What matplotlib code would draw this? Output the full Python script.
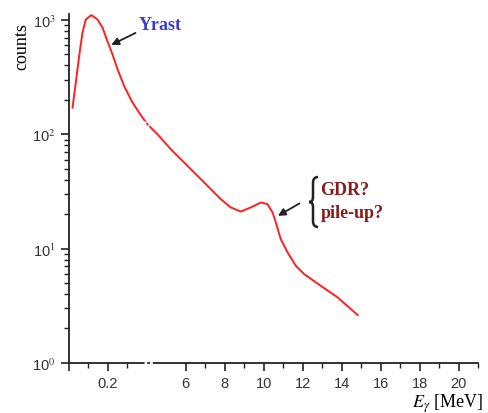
import numpy as np
import matplotlib.pyplot as plt
from matplotlib.path import Path
from matplotlib.patches import PathPatch
from matplotlib.ticker import FixedLocator, LogLocator, NullFormatter

# =========================
# data
# =========================
energy_mev = [0.19, 0.36, 0.53, 0.70, 0.87, 1.16, 1.47, 1.73, 1.98, 2.24,
              2.50, 2.84, 3.27, 3.78, 4.04, 4.55, 5.23, 6.94, 7.79, 8.31,
              8.82, 9.33, 9.85, 10.19, 10.45, 10.62, 10.87, 11.22, 11.64,
              12.07, 12.92, 13.78, 14.81]
counts = [171, 285, 483, 773, 1010, 1102, 1010, 855, 653, 500,
          370, 264, 189, 140, 122, 100, 74, 37.9, 27.1, 22.9,
          21.1, 22.9, 25.3, 24.5, 20.7, 16.9, 12.1, 9.27, 7.08,
          5.99, 4.73, 3.75, 2.63]

xtick_major = [0, 2, 6, 8, 10, 12, 14, 16, 18, 20]
xtick_labels = ["", "0.2", "6", "8", "10", "12", "14", "16", "18", "20"]
xtick_minor = [1, 3, 7, 9, 11, 13, 15, 17, 19, 21]

W, H = 488, 414


def px(x, y):
    # pixel (from top-left) -> figure fraction
    return (x / W, 1 - y / H)


# =========================
# plot
# =========================
plt.rcParams["mathtext.fontset"] = "stix"
fig = plt.figure(figsize=(W / 100, H / 100), dpi=100)
ax = fig.add_axes([0.141, 0.121, 0.839, 0.843])

ax.plot(energy_mev, counts, color="#ff2020", linewidth=1.4)

ax.set_yscale("log")
ax.set_xlim(0, 21)
ax.set_ylim(1, 1130)

ax.spines["top"].set_visible(False)
ax.spines["right"].set_visible(False)
for s in ("left", "bottom"):
    ax.spines[s].set_linewidth(1.3)
    ax.spines[s].set_color("#222222")

ax.xaxis.set_major_locator(FixedLocator(xtick_major))
ax.xaxis.set_minor_locator(FixedLocator(xtick_minor))
ax.set_xticklabels(xtick_labels)
ax.yaxis.set_major_locator(FixedLocator([1, 10, 100, 1000]))
ax.yaxis.set_minor_locator(LogLocator(base=10, subs=np.arange(2, 10)))
ax.yaxis.set_minor_formatter(NullFormatter())
ax.set_yticklabels([r"10$^0$", r"10$^1$", r"10$^2$", r"10$^3$"])

ax.tick_params(which="major", direction="out", length=6, width=1.2,
               colors="#222222", labelsize=10.5, labelcolor="#333333")
ax.tick_params(which="minor", direction="out", length=3.5, width=1.0,
               colors="#222222")
for lab in ax.get_xticklabels() + ax.get_yticklabels():
    lab.set_family("Liberation Sans")

# axis break marks
ax.plot([3.85, 4.35], [1, 1], color="white", linewidth=2, linestyle=(0, (1, 1)),
        clip_on=False, zorder=5)
ax.plot([3.85, 4.15], [128, 118], color="white", linewidth=2, linestyle=(0, (1, 1)),
        zorder=5)

fig.text(22 / W, 1 - 47 / H, "counts", family="Liberation Serif",
         fontsize=13, rotation=90, ha="center", va="center")
fig.text(0.99, 1 - 404 / H, r"$E_\gamma$ [MeV]", family="Liberation Serif",
         fontsize=13, ha="right", va="center")

# annotations
ax.annotate("", xy=(2.05, 590), xytext=(3.55, 790),
            arrowprops=dict(arrowstyle="-|>", color="#222222", lw=1.3,
                            mutation_scale=11))
ax.text(3.6, 910, "Yrast", color="#3b3bd0", fontsize=13, fontweight="bold",
        family="Liberation Serif", ha="left", va="center")

ax.annotate("", xy=(10.6, 18.8), xytext=(11.95, 25.5),
            arrowprops=dict(arrowstyle="-|>", color="#222222", lw=1.3,
                            mutation_scale=11))

# curly brace
verts = [px(318, 178), px(313, 178), px(313, 184), px(313, 198),
         px(313, 203), px(309, 203), px(313, 203), px(313, 208),
         px(313, 222), px(313, 228), px(318, 228)]
codes = [Path.MOVETO, Path.CURVE3, Path.CURVE3, Path.LINETO,
         Path.CURVE3, Path.CURVE3, Path.CURVE3, Path.CURVE3,
         Path.LINETO, Path.CURVE3, Path.CURVE3]
fig.add_artist(PathPatch(Path(verts, codes), transform=fig.transFigure,
                         facecolor="none", edgecolor="#222222", lw=1.8))

ax.text(12.9, 33, "GDR?", color="#8b1a1a", fontsize=13, fontweight="bold",
        family="Liberation Serif", ha="left", va="center")
ax.text(12.9, 20.8, "pile-up?", color="#8b1a1a", fontsize=13, fontweight="bold",
        family="Liberation Serif", ha="left", va="center")

fig.savefig("out.png", dpi=100)
